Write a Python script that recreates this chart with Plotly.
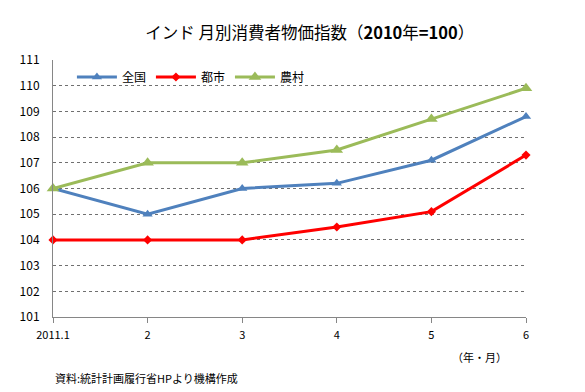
import plotly.graph_objects as go

categories = ["2011.1", "2", "3", "4", "5", "6"]
zenkoku = [106.0, 105.0, 106.0, 106.2, 107.1, 108.8]
toshi = [104.0, 104.0, 104.0, 104.5, 105.1, 107.3]
noson = [106.0, 107.0, 107.0, 107.5, 108.7, 109.9]
y_ticks = list(range(101, 112))

FONT = "Noto Sans CJK JP"
fig = go.Figure()
fig.add_trace(go.Scatter(x=categories, y=zenkoku, name="全国", mode="lines+markers",
                         line=dict(color="#4F81BD", width=3),
                         marker=dict(symbol="triangle-up", size=9, color="#4F81BD"),
                         cliponaxis=False))
fig.add_trace(go.Scatter(x=categories, y=toshi, name="都市", mode="lines+markers",
                         line=dict(color="#FF0000", width=3),
                         marker=dict(symbol="diamond", size=7, color="#FF0000"),
                         cliponaxis=False))
fig.add_trace(go.Scatter(x=categories, y=noson, name="農村", mode="lines+markers",
                         line=dict(color="#9BBB59", width=3),
                         marker=dict(symbol="triangle-up", size=11, color="#9BBB59"),
                         cliponaxis=False))

# page body has an 8px margin, so the figure is sized/offset to compensate
fig.update_layout(
    width=577, height=384,
    margin=dict(l=45, r=59, t=52, b=75, autoexpand=False),
    paper_bgcolor="white", plot_bgcolor="white",
    font=dict(family=FONT, size=11, color="black"),
    title=dict(text="インド 月別消費者物価指数（<b>2010</b>年<b>=100</b>）", x=0.523, xanchor="center",
               y=0.935, yanchor="middle", font=dict(family=FONT, size=16.5, color="black")),
    showlegend=True,
    legend=dict(orientation="h", x=0.04, y=0.99, xanchor="left", yanchor="top",
                bgcolor="rgba(255,255,255,0)", font=dict(family=FONT, size=12),
                itemwidth=40, tracegroupgap=0),
    xaxis=dict(type="category", range=[0, 5], showgrid=False, showline=True,
               linecolor="#868686", linewidth=1, ticks="outside", ticklen=5,
               tickcolor="#868686", tickfont=dict(size=11), zeroline=False,
               ticklabelstandoff=3, automargin=False),
    yaxis=dict(range=[101, 111], tickvals=y_ticks, showgrid=True, gridcolor="#707070",
               griddash="dot", gridwidth=1, showline=True, linecolor="#868686",
               linewidth=1, ticks="", tickfont=dict(size=12), zeroline=False,
               ticklabelstandoff=10, automargin=False),
)
fig.add_annotation(text="（年・月）", xref="paper", yref="paper", x=0.965, y=-0.156,
                   xanchor="right", yanchor="middle", showarrow=False,
                   font=dict(family=FONT, size=11))
fig.add_annotation(text="資料:統計計画履行省HPより機構作成", xref="paper", yref="paper",
                   x=0.0, y=-0.237, xanchor="left", yanchor="middle", showarrow=False,
                   font=dict(family=FONT, size=11))
fig.write_html("out.html")
